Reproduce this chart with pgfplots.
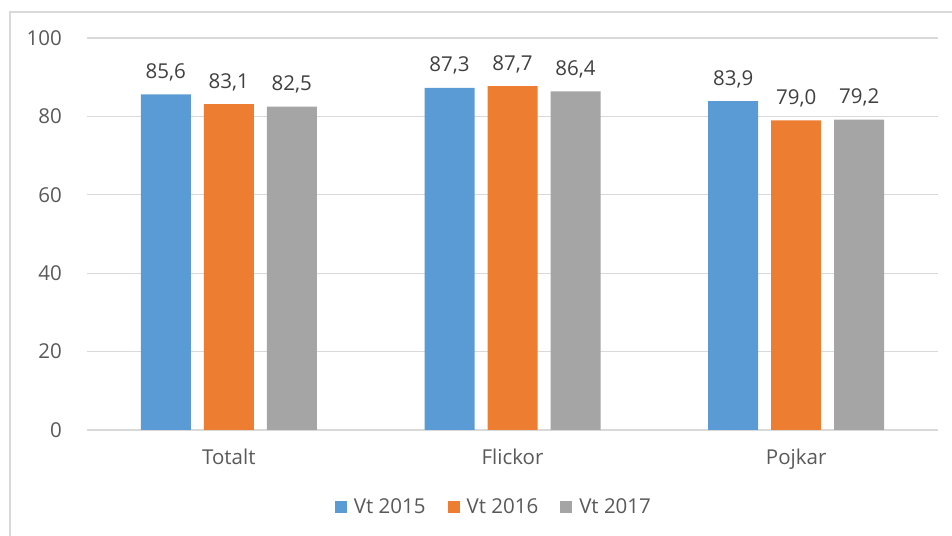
\documentclass[border=0pt]{standalone}
\usepackage{pgfplots}
\pgfplotsset{compat=1.18}
\usepackage{fontspec}
\setmainfont{Open Sans}
\definecolor{cblue}{HTML}{5B9BD5}
\definecolor{corange}{HTML}{ED7D31}
\definecolor{cgray}{HTML}{A5A5A5}
\definecolor{ctext}{HTML}{595959}
\definecolor{cval}{HTML}{404040}
\definecolor{cgrid}{HTML}{D9D9D9}
\begin{document}
\begin{tikzpicture}[x=1bp,y=1bp]
\useasboundingbox (0,0) rectangle (952,536);
\draw[cgrid,line width=1.2bp] (10,-5) -- (10,524) -- (960,524);
\begin{axis}[
  at={(87bp,106bp)}, anchor=south west,
  scale only axis, width=851bp, height=392bp,
  xmin=-0.5, xmax=2.5, ymin=0, ymax=100,
  ytick={0,20,40,60,80,100},
  xtick={0,1,2}, xticklabels={Totalt,Flickor,Pojkar},
  axis line style={draw=none},
  major tick length=0pt,
  ymajorgrids, grid style={cgrid,line width=1.2bp},
  font=\fontsize{20.5bp}{24bp}\selectfont,
  /pgf/number format/assume math mode=true,
  yticklabel style={anchor=east,inner sep=0pt,xshift=-25bp,text=ctext},
  xticklabel style={anchor=base,inner sep=0pt,yshift=-35bp,text=ctext},
  ybar=13bp, bar width=50bp,
  nodes near coords,
  nodes near coords style={anchor=base,inner sep=0pt,yshift=16bp,text=cval,
    /pgf/number format/.cd,fixed,fixed zerofill,precision=1,use comma,assume math mode=true},
  legend style={draw=none, at={(0.477,-0.196)}, anchor=center, legend columns=3,
    text=ctext, inner sep=0pt,
    /tikz/every odd column/.append style={column sep=7bp},
    /tikz/every even column/.append style={column sep=22bp},
    nodes={inner sep=0pt}},
  legend image code/.code={\fill[#1,draw=none] (0bp,-6bp) rectangle (12bp,6bp);},
  clip=false,
]
\addplot[fill=cblue,draw=none] coordinates {(0,85.6) (1,87.3) (2,83.9)};
\addplot[fill=corange,draw=none] coordinates {(0,83.1) (1,87.7) (2,79.0)};
\addplot[fill=cgray,draw=none] coordinates {(0,82.5) (1,86.4) (2,79.2)};
\legend{Vt 2015,Vt 2016,Vt 2017}
\end{axis}
\end{tikzpicture}
\end{document}
